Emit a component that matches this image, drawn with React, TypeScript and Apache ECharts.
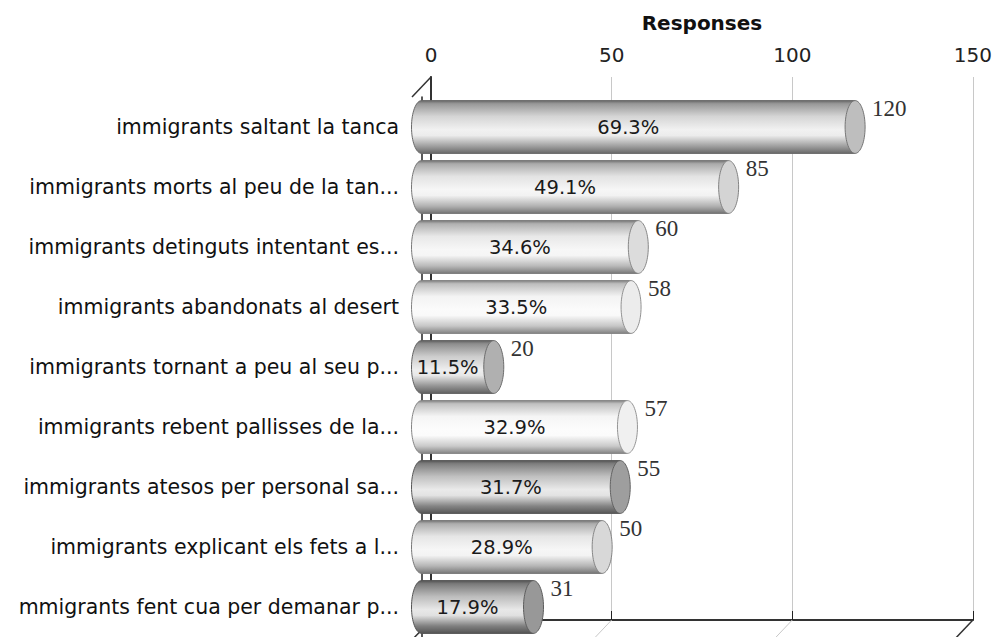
import React, { useEffect, useRef } from "react";
import * as echarts from "echarts";

const categories = [
  "immigrants saltant la tanca",
  "immigrants morts al peu de la tan...",
  "immigrants detinguts intentant es...",
  "immigrants abandonats al desert",
  "immigrants tornant a peu al seu p...",
  "immigrants rebent pallisses de la...",
  "immigrants atesos per personal sa...",
  "immigrants explicant els fets a l...",
  "mmigrants fent cua per demanar p...",
];
const responses = [120, 85, 60, 58, 20, 57, 55, 50, 31];
const percents = ["69.3%", "49.1%", "34.6%", "33.5%", "11.5%", "32.9%", "31.7%", "28.9%", "17.9%"];
const xTicks = [0, 50, 100, 150];
const axisTitle = "Responses";
const barGray = [0xbe, 0xd4, 0xdc, 0xec, 0xb0, 0xf0, 0x9e, 0xd8, 0x98];

const DX = 19;
const DY = 20;

function g(v: number) {
  const c = Math.max(0, Math.min(255, Math.round(v)));
  return `rgb(${c},${c},${c})`;
}
function mix(b: number, t: number) {
  return b + (255 - b) * t;
}

export default function App() {
  const ref = useRef<HTMLDivElement>(null);
  useEffect(() => {
    if (!ref.current) return;
    const chart = echarts.init(ref.current, undefined, { renderer: "svg" });
    const sans = "DejaVu Sans";
    const option: any = {
      animation: false,
      backgroundColor: "#ffffff",
      grid: [
        { left: 431, top: 77, width: 542, height: 543, containLabel: false },
        { left: 421.5, top: 97, width: 542, height: 543, containLabel: false },
      ],
      xAxis: [
        {
          gridIndex: 0,
          type: "value",
          position: "top",
          min: 0,
          max: 150,
          interval: 50,
          name: axisTitle,
          nameLocation: "middle",
          nameGap: 44,
          nameTextStyle: { fontFamily: sans, fontWeight: "bold", fontSize: 20, color: "#111" },
          axisLine: { show: true, lineStyle: { color: "#222", width: 1.2 } },
          axisTick: { show: true, length: 9, lineStyle: { color: "#222" } },
          axisLabel: { fontFamily: sans, fontSize: 20, color: "#222", margin: 12 },
          splitLine: { show: true, lineStyle: { color: "#c8c8c8", width: 1 } },
        },
        {
          gridIndex: 0,
          type: "value",
          position: "bottom",
          min: 0,
          max: 150,
          interval: 50,
          axisLine: { show: true, lineStyle: { color: "#333", width: 2 } },
          axisTick: { show: false },
          axisLabel: { show: false },
          splitLine: { show: false },
        },
        {
          gridIndex: 1,
          type: "value",
          min: 0,
          max: 150,
          show: false,
        },
      ],
      yAxis: [
        {
          gridIndex: 0,
          type: "value",
          position: "left",
          min: 0,
          max: 1,
          axisLine: { show: true, lineStyle: { color: "#444", width: 1.5 } },
          axisTick: { show: false },
          axisLabel: { show: false },
          splitLine: { show: false },
        },
        {
          gridIndex: 0,
          type: "value",
          position: "right",
          min: 0,
          max: 1,
          axisLine: { show: true, lineStyle: { color: "#333", width: 2 } },
          axisTick: { show: false },
          axisLabel: { show: false },
          splitLine: { show: false },
        },
        {
          gridIndex: 1,
          type: "category",
          inverse: true,
          data: categories,
          offset: 9.5,
          axisLine: { show: true, lineStyle: { color: "#222", width: 1.5 } },
          axisTick: { show: true, alignWithLabel: true, length: 9, lineStyle: { color: "#222" } },
          axisLabel: { fontFamily: sans, fontSize: 20.5, color: "#111", margin: 13 },
          splitLine: { show: false },
        },
      ],
      series: [
        {
          type: "custom",
          xAxisIndex: 1,
          yAxisIndex: 0,
          z: 1,
          silent: true,
          data: xTicks.map((t) => [t, 0]),
          renderItem: (params: any, api: any) => {
            const t = api.value(0);
            const p = api.coord([t, 0]);
            const edge = t === xTicks[0] || t === xTicks[xTicks.length - 1];
            const children: any[] = [
              {
                type: "line",
                shape: { x1: p[0], y1: p[1], x2: p[0] - DX, y2: p[1] + DY },
                style: { stroke: edge ? "#333" : "#c8c8c8", lineWidth: edge ? 1.5 : 1 },
              },
            ];
            if (t === xTicks[0]) {
              const q = api.coord([t, 1]);
              children.push({
                type: "line",
                shape: { x1: q[0], y1: q[1], x2: q[0] - DX, y2: q[1] + DY },
                style: { stroke: "#333", lineWidth: 1.5 },
              });
            }
            return { type: "group", children };
          },
        },
        {
          type: "custom",
          xAxisIndex: 2,
          yAxisIndex: 2,
          z: 3,
          data: responses.map((v, i) => [v, i]),
          encode: { x: 0, y: 1 },
          renderItem: (params: any, api: any) => {
            const v = api.value(0);
            const idx = api.value(1);
            const s = api.coord([0, idx]);
            const e = api.coord([v, idx]);
            const band = api.size([0, 1])[1];
            const h = band * 0.88;
            const ry = h / 2;
            const rx = 10;
            const x0 = s[0];
            const x1 = e[0];
            const yc = s[1];
            const b = barGray[idx];
            const grad = new echarts.graphic.LinearGradient(0, 0, 0, 1, [
              { offset: 0, color: g(b * 0.55) },
              { offset: 0.06, color: g(b * 0.8) },
              { offset: 0.3, color: g(mix(b, 0.35)) },
              { offset: 0.55, color: g(mix(b, 0.78)) },
              { offset: 0.66, color: g(mix(b, 0.7)) },
              { offset: 0.86, color: g(b * 0.84) },
              { offset: 1, color: g(b * 0.55) },
            ]);
            const edgeColor = g(b * 0.55);
            return {
              type: "group",
              children: [
                {
                  type: "ellipse",
                  shape: { cx: x0, cy: yc, rx, ry },
                  style: { fill: grad, stroke: edgeColor, lineWidth: 1 },
                },
                {
                  type: "rect",
                  shape: { x: x0, y: yc - ry, width: x1 - x0, height: h },
                  style: { fill: grad },
                },
                {
                  type: "line",
                  shape: { x1: x0, y1: yc - ry, x2: x1, y2: yc - ry },
                  style: { stroke: edgeColor, lineWidth: 1 },
                },
                {
                  type: "line",
                  shape: { x1: x0, y1: yc + ry, x2: x1, y2: yc + ry },
                  style: { stroke: edgeColor, lineWidth: 1 },
                },
                {
                  type: "ellipse",
                  shape: { cx: x1, cy: yc, rx, ry },
                  style: { fill: g(b), stroke: g(b * 0.62), lineWidth: 1 },
                },
                {
                  type: "text",
                  style: {
                    text: percents[idx],
                    x: (x0 + x1) / 2 - rx,
                    y: yc,
                    align: "center",
                    verticalAlign: "middle",
                    fontFamily: sans,
                    fontSize: 19.5,
                    fill: "#1a1a1a",
                  },
                },
                {
                  type: "text",
                  style: {
                    text: String(v),
                    x: x1 + rx + 7,
                    y: yc - ry + 8,
                    align: "left",
                    verticalAlign: "middle",
                    fontFamily: "Liberation Serif",
                    fontSize: 23,
                    fill: "#333",
                  },
                },
              ],
            };
          },
        },
      ],
    };
    chart.setOption(option);
    return () => chart.dispose();
  }, []);
  return (
    <div
      ref={ref}
      style={{ position: "fixed", left: 0, top: 0, width: 995, height: 637 }}
    />
  );
}
